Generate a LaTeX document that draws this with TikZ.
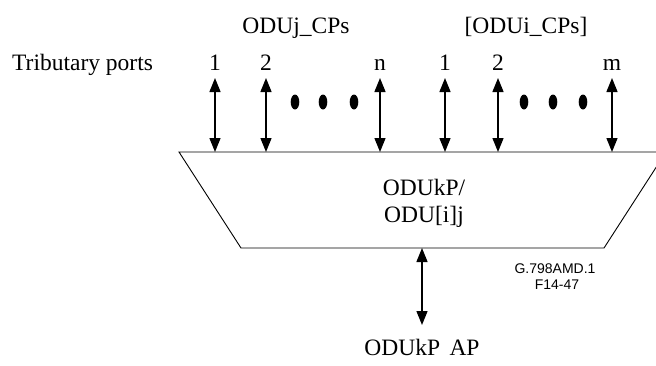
\documentclass[tikz,border=0pt]{standalone}
\usepackage{fontspec}
\setmainfont{Liberation Serif}
\newfontfamily\arialfont{Liberation Sans}
\usetikzlibrary{arrows.meta}
\begin{document}
\begin{tikzpicture}[x=1pt,y=-1pt,
  lbl/.style={font=\fontsize{23.5}{26}\selectfont, anchor=base, inner sep=0pt},
  dblarrow/.style={line width=1.4pt, {Triangle[length=14pt,width=11pt]}-{Triangle[length=14pt,width=11pt]}},
  dotmark/.style={fill=black, ellipse, draw=none},
  trap/.style={line width=0.9pt}]
\clip (0,0) rectangle (656,365);
\useasboundingbox (0,0) rectangle (656,365);
% trapezoid
\coordinate (tl) at (179,152);
\coordinate (tr) at (666,152);
\coordinate (br) at (604,248);
\coordinate (bl) at (241,248);
\draw[trap] (tl) -- (tr) -- (br) -- (bl) -- cycle;
\node[lbl] (fn1) at (424,195) {ODUkP/};
\node[lbl] (fn2) at (424,222) {ODU[i]j};
% headings
\node[lbl, anchor=base west] (trib) at (12,70) {Tributary ports};
\node[lbl] (hj) at (296,33) {ODUj\_CPs};
\node[lbl] (hi) at (526,33) {[ODUi\_CPs]};
% ports
\foreach \i/\x/\t in {1/215/1,2/266/2,3/380/n,4/445/1,5/498/2,6/612/m}{
  \node[lbl] (lab\i) at (\x,70) {\t};
  \coordinate (top\i) at (\x,78);
  \coordinate (bot\i) at (\x,152);
  \draw[dblarrow] (bot\i) -- (top\i);
}
% dots
\foreach \i/\x in {1/295,2/323,3/354,4/524,5/553,6/583}{
  \fill (\x,102) ellipse [x radius=4.3pt, y radius=7.5pt];
}
% adaptation point
\coordinate (ap1) at (422,248);
\coordinate (ap2) at (422,325);
\draw[dblarrow] (ap1) -- (ap2);
\node[lbl] (ap) at (422,355) {ODUkP\hspace{0.4em}AP};
% figure id
\node[font=\arialfont\fontsize{14}{16}\selectfont, anchor=base, inner sep=0pt] (id1) at (555,273) {G.798AMD.1};
\node[font=\arialfont\fontsize{14}{16}\selectfont, anchor=base, inner sep=0pt] (id2) at (557,289) {F14-47};
\end{tikzpicture}
\end{document}
